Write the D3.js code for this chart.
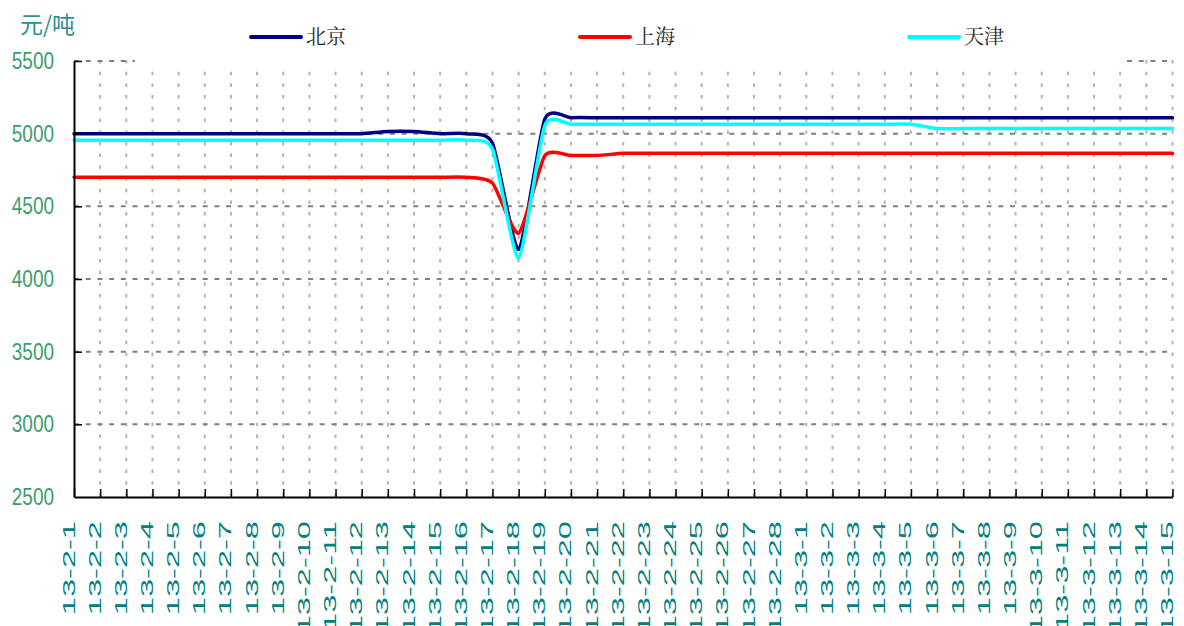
<!DOCTYPE html>
<html>
<head>
<meta charset="utf-8">
<script src="https://cdn.jsdelivr.net/npm/d3@7"></script>
<style>
  body { margin: 0; background: #fff; }
  svg { display: block; }
</style>
</head>
<body>
<svg id="app" width="1184" height="626"></svg>
<script>
// x axis labels
const categories = [
  '13-2-1', '13-2-2', '13-2-3', '13-2-4', '13-2-5', '13-2-6', '13-2-7', '13-2-8', '13-2-9', '13-2-10',
  '13-2-11', '13-2-12', '13-2-13', '13-2-14', '13-2-15', '13-2-16', '13-2-17', '13-2-18', '13-2-19', '13-2-20',
  '13-2-21', '13-2-22', '13-2-23', '13-2-24', '13-2-25', '13-2-26', '13-2-27', '13-2-28',
  '13-3-1', '13-3-2', '13-3-3', '13-3-4', '13-3-5', '13-3-6', '13-3-7', '13-3-8', '13-3-9', '13-3-10',
  '13-3-11', '13-3-12', '13-3-13', '13-3-14', '13-3-15'
];

const seriesNames = ['北京', '上海', '天津'];
const seriesColors = ['#000080', '#ff0000', '#00ffff'];

const beijing = [
  5000, 5000, 5000, 5000, 5000, 5000, 5000, 5000, 5000, 5000,
  5000, 5000, 5015, 5015, 5000, 5000, 4935, 4205, 5100, 5110,
  5110, 5110, 5110, 5110, 5110, 5110, 5110, 5110,
  5110, 5110, 5110, 5110, 5110, 5110, 5110, 5110, 5110, 5110,
  5110, 5110, 5110, 5110, 5110
];
const shanghai = [
  4700, 4700, 4700, 4700, 4700, 4700, 4700, 4700, 4700, 4700,
  4700, 4700, 4700, 4700, 4700, 4700, 4660, 4315, 4848, 4850,
  4850, 4865, 4865, 4865, 4865, 4865, 4865, 4865,
  4865, 4865, 4865, 4865, 4865, 4865, 4865, 4865, 4865, 4865,
  4865, 4865, 4865, 4865, 4865
];
const tianjin = [
  4955, 4955, 4955, 4955, 4955, 4955, 4955, 4955, 4955, 4955,
  4955, 4955, 4955, 4955, 4955, 4955, 4895, 4145, 5055, 5065,
  5065, 5065, 5065, 5065, 5065, 5065, 5065, 5065,
  5065, 5065, 5065, 5065, 5065, 5035, 5035, 5035, 5035, 5035,
  5035, 5035, 5035, 5035, 5035
];
const yTicks = [2500, 3000, 3500, 4000, 4500, 5000, 5500];
const unitLabel = '元/吨';

const SVG_WIDTH = 1184;
const SVG_HEIGHT = 626;
const MARGIN = { TOP: 61, RIGHT: 11.5, LEFT: 74, BOTTOM: 129 };
const PLOT_BOTTOM = SVG_HEIGHT - MARGIN.BOTTOM;
const PLOT_RIGHT = SVG_WIDTH - MARGIN.RIGHT;

var container = d3.select('#app');

// 点比例尺，点在刻度上
const xScale = d3.scalePoint()
  .domain(categories)
  .range([MARGIN.LEFT, PLOT_RIGHT]);

const yScale = d3.scaleLinear()
  .domain([2500, 5500])
  .range([PLOT_BOTTOM, MARGIN.TOP]);

// vertical dotted grid
container.append('g')
  .selectAll('line')
  .data(categories.slice(1))
  .enter()
  .append('line')
  .attr('x1', d => xScale(d))
  .attr('x2', d => xScale(d))
  .attr('y1', MARGIN.TOP - 1)
  .attr('y2', PLOT_BOTTOM)
  .attr('stroke', '#b3b3b3')
  .attr('stroke-width', 2)
  .attr('stroke-dasharray', '3.5,8.2');

// horizontal dashed grid
container.append('g')
  .selectAll('line')
  .data(yTicks.slice(1))
  .enter()
  .append('line')
  .attr('x1', MARGIN.LEFT)
  .attr('x2', PLOT_RIGHT)
  .attr('y1', d => yScale(d))
  .attr('y2', d => yScale(d))
  .attr('stroke', '#808080')
  .attr('stroke-width', 2)
  .attr('stroke-dasharray', '5,6.7');

// 图例背景 (covers the top grid line in the middle)
container.append('rect')
  .attr('x', 135)
  .attr('y', 8)
  .attr('width', 987)
  .attr('height', 56)
  .attr('fill', '#fff');

// lines, smoothed
const line = d3.line()
  .x((d, i) => xScale(categories[i]))
  .y(d => yScale(d))
  .curve(d3.curveCardinal.tension(0.4));

[beijing, shanghai, tianjin].forEach(function (values, k) {
  container.append('path')
    .datum(values)
    .attr('d', line)
    .attr('fill', 'none')
    .attr('stroke', seriesColors[k])
    .attr('stroke-width', 3.5)
    .attr('stroke-linejoin', 'round')
    .attr('stroke-linecap', 'round');
});

// y axis
var axisLeft = d3.axisLeft(yScale)
  .tickValues(yTicks)
  .tickFormat(d3.format('d'))
  .tickSize(-8)
  .tickSizeOuter(0)
  .tickPadding(20);
var gy = container.append('g')
  .attr('transform', `translate(${MARGIN.LEFT},0)`)
  .call(axisLeft);
gy.select('.domain').attr('stroke', '#000').attr('stroke-width', 2);
gy.selectAll('.tick line').attr('stroke', '#000').attr('stroke-width', 1.5);
gy.selectAll('.tick line').filter(d => d === 2500).remove();
gy.selectAll('text')
  .attr('font-family', '"Liberation Sans", Arial, sans-serif')
  .attr('font-size', 19)
  .attr('fill', '#3c9e6c')
  .attr('transform', 'scale(1,1.23)');

// x axis
var axisBottom = d3.axisBottom(xScale).tickSize(-8).tickSizeOuter(0);
var gx = container.append('g')
  .attr('transform', `translate(0,${PLOT_BOTTOM})`)
  .call(axisBottom);
gx.select('.domain').attr('stroke', '#000').attr('stroke-width', 2);
gx.selectAll('.tick line').attr('stroke', '#000').attr('stroke-width', 1.5);
gx.selectAll('text')
  .attr('x', 0)
  .attr('y', 0)
  .attr('dy', 0)
  .attr('text-anchor', 'end')
  .attr('font-family', '"Liberation Sans", Arial, sans-serif')
  .attr('font-size', 16.3)
  .attr('fill', '#008080')
  .attr('transform', 'translate(0,24) rotate(-90) scale(2,1)');

// 单位
container.append('text')
  .attr('x', 20)
  .attr('y', 33)
  .attr('font-family', '"Noto Sans CJK SC", sans-serif')
  .attr('font-size', 23)
  .attr('fill', '#2e8f8f')
  .text(unitLabel);

// 图例
const legendX = d3.scaleLinear().domain([0, 1]).range([251, 580]);
var legend = container.append('g')
  .selectAll('g')
  .data(seriesNames)
  .enter()
  .append('g')
  .attr('transform', (d, i) => `translate(${legendX(i)},37)`);
legend.append('line')
  .attr('x1', 0)
  .attr('x2', 50)
  .attr('stroke', (d, i) => seriesColors[i])
  .attr('stroke-width', 4)
  .attr('stroke-linecap', 'round');
legend.append('text')
  .attr('x', 55)
  .attr('dy', '0.36em')
  .attr('font-family', '"Noto Serif CJK SC", "Noto Sans CJK SC", serif')
  .attr('font-size', 20)
  .attr('fill', '#262626')
  .text(d => d);
</script>
</body>
</html>
